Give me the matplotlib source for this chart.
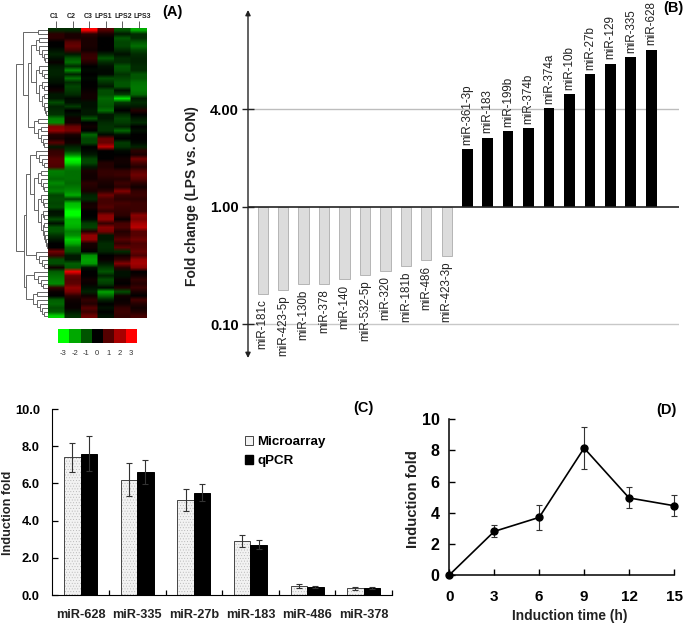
import matplotlib
matplotlib.use("Agg")
import matplotlib.pyplot as plt
from matplotlib.colors import LinearSegmentedColormap, ListedColormap
from matplotlib.patches import Patch
import numpy as np

plt.rcParams['font.family'] = ['Liberation Sans', 'DejaVu Sans']
plt.rcParams['hatch.linewidth'] = 0.3

W, H = 685, 625

# panel A
heat_cols = ['C1', 'C2', 'C3', 'LPS1', 'LPS2', 'LPS3']
heat_rows = [
    [-0.5, -0.5, 3, 1, -1, -2], [0.5, 0.3, 0.5, 0.3, -0.3, -0.5], [0.5, 0.3, 0.3, 0, -1, -0.5],
    [0, 1, 0.3, 0, -0.8, -1], [0, 1.2, 0.3, 0, -0.8, -1.3], [-0.2, 0.8, 0.2, 0, -0.5, -0.8],
    [-0.4, -0.3, 0.6, -0.4, -0.2, -0.5], [-0.2, -1, 0.7, -1, -0.5, -0.4], [0.1, -1.3, 0.4, -0.5, -0.5, -0.4],
    [-0.3, -0.5, 0, -0.2, -1, -0.5], [-0.4, -1.6, -0.1, -0.1, -0.9, -0.5], [-0.4, -0.4, 0, -0.1, -0.6, -1],
    [-0.3, -1.3, -0.1, -0.9, -0.8, -1], [-0.2, -0.5, 0, -0.6, -1, -1.3], [0, -0.8, 0, -0.3, -1, -1.4],
    [0.2, -0.7, 0.1, -0.9, -0.2, -1.4], [-0.3, -0.5, 0.2, -0.9, -0.7, -1.2], [-0.3, -0.1, 0.2, -1.2, -2.6, -0.3],
    [-0.9, -0.2, -0.2, -1.1, -0.7, -0.5], [-0.4, -0.7, -0.2, -1, -0.3, -0.3], [-0.5, 0, -0.3, -1.3, 0, 0.4],
    [-0.6, -0.2, -0.3, -0.3, -0.5, 0], [-1.5, 0.2, -1, -0.3, -0.8, -0.3], [-1.6, 0.2, 0, -0.5, -0.7, -0.5],
    [1.5, 1.2, 0.2, -0.6, -0.4, 0], [1.7, 1.4, 0, -0.6, -1.2, -0.2], [0.4, 0.3, -1.2, -0.1, -0.2, 0],
    [0.3, 0.1, -0.8, 1.2, 0, 0], [1, 0.2, -0.8, 1.2, -0.7, -0.1], [-0.3, -0.4, 0, 2.2, -0.6, -0.4],
    [0.6, -0.7, -0.1, 0, -0.1, 0.5], [0.7, -1.6, -0.3, 0, 0, 0.3], [1, -3, -0.8, 0, 0.2, 1.4],
    [1, -2.6, -0.8, 0.4, 0.2, 0.8], [0.9, -1.6, -0.3, 0.4, 0.1, 0.4], [-1.5, -1.3, 0.3, 0.6, 0.6, 1],
    [-1.4, -1.3, 0.2, 0.6, 0.7, 1.3], [-1.2, -1.3, 0.2, 0.4, 0.4, 1], [-1.6, -1.2, 0.5, 0.3, 0.7, 0.5],
    [-1.3, -1.4, 0.4, 0.2, 0.5, 0.2], [-1.5, -1.6, 0.3, 0.5, 1.5, 0.6], [-0.8, -2, -0.4, 1.3, 0.7, 0.7],
    [-0.9, -0.7, -0.5, 0.8, 0.5, 0.5], [-0.8, -2.2, 0.2, 0.8, 0.8, 0.7], [-0.9, -2.4, 0.3, 1, 0.7, 0.7],
    [-0.2, -3, 0, 0.6, 0.6, 0.7], [-0.3, -3, 0, 1.6, 0.5, 1.6], [-0.9, -2.2, -0.1, 1.7, 0.1, 1.4],
    [-0.2, -2.2, -0.7, 0.6, 0.8, 1.9], [-1, -2, -0.8, 1.6, 0.9, 2.2], [-1, -1.5, 0.4, 1.4, 0.4, 1],
    [-0.6, -1.7, 1.7, -0.3, 0.6, 1], [-0.3, -2.4, 1.7, -0.3, 1, 1.3], [0, -2, 0.3, -0.5, 0.6, 0.9],
    [0, -1.2, 0.2, -0.5, 1.1, 1], [1.3, -1, 0, -0.4, -0.5, 1.2], [0.7, -0.3, -1.7, 0, 0.2, 0.9],
    [-0.9, -0.3, -1.9, 0.1, 0.6, 1.8], [-0.9, -1.1, -1.8, -0.3, 1.5, 1.9], [0.2, -1, -0.2, -0.7, 0.5, 1.6],
    [-1.1, 2.8, 0, -1, -0.2, 0], [-1.3, 1.2, 0, -0.4, -0.2, 0.2], [-1.5, 1, 0.2, -0.9, 0.1, 0.6],
    [-1.6, 1.1, 0.1, -0.7, 0, 0.4], [0.6, 1.7, -0.2, -0.1, 0.4, 0.7], [0.1, 1.4, -0.4, -1.9, -0.9, 0.3],
    [0, 0.5, 0.2, -1.2, 0.2, 0], [-1.1, 0.2, 0.6, -0.4, 0.1, 0.8], [-1.2, 0.1, 0.4, 0, 0.2, 0.4],
    [-0.9, 0.1, 1, -0.2, 0.6, 0.2], [-1.1, -0.3, 0.7, 0, 0.7, 0.4], [-2.5, -0.6, 1.3, -0.2, 0.6, 0.8],
]
scale_vals = [-3, -2, -1, 0, 1, 2, 3]
scale_cols = ['#00ff00', '#00a800', '#005400', '#000000', '#540000', '#a80000', '#ff0000']

# dendrogram: (depth, first row, last row) groups, nested by hand
dendro = (32,
          (25, (10, 0, 1),
               (20, (17, (12, 2, 8), (12, 9, 21)), (14, 22, 29))),
          (24, (22, (18, (12, 30, 34), (14, 35, 54)), (12, 55, 59)),
               (22, (14, 60, 64), (15, 65, 71))))

# panel B
down_names = ['miR-181c', 'miR-423-5p', 'miR-130b', 'miR-378', 'miR-140',
              'miR-532-5p', 'miR-320', 'miR-181b', 'miR-486', 'miR-423-3p']
down_vals = [0.18, 0.196, 0.22, 0.22, 0.24, 0.262, 0.285, 0.314, 0.349, 0.382]
up_names = ['miR-361-3p', 'miR-183', 'miR-199b', 'miR-374b', 'miR-374a',
            'miR-10b', 'miR-27b', 'miR-129', 'miR-335', 'miR-628']
up_vals = [2.27, 2.68, 2.94, 3.07, 4.06, 5.0, 6.6, 7.7, 8.46, 9.4]
fold_ticks = [0.1, 1, 4]
fold_labels = ['0.10', '1.00', '4.00']

# panel C
mir_names = ['miR-628', 'miR-335', 'miR-27b', 'miR-183', 'miR-486', 'miR-378']
array_vals = [7.4, 6.2, 5.1, 2.9, 0.47, 0.35]
array_err = [0.78, 0.9, 0.6, 0.33, 0.12, 0.08]
qpcr_vals = [7.6, 6.6, 5.5, 2.7, 0.43, 0.37]
qpcr_err = [0.93, 0.64, 0.45, 0.24, 0.08, 0.04]

# panel D
hours = [0, 3, 6, 9, 12, 15]
fold_time = [0, 2.8, 3.7, 8.15, 4.95, 4.45]
fold_time_err = [0, 0.38, 0.82, 1.33, 0.67, 0.66]


def axes_px(left, top, right, bottom):
    # axes placed by image pixels, y counted from the top
    return fig.add_axes([left / W, 1 - bottom / H, (right - left) / W, (bottom - top) / H])


def label_px(x, y, s, **kw):
    fig.text(x / W, 1 - y / H, s, va='center', **kw)


def draw_tree(ax, node):
    # returns (x, y) of the node's stem
    depth, a, b = node
    if isinstance(a, int):
        if a == b:
            return 0, a
        if b - a == 1:
            sub_a, sub_b = (0, a, a), (0, b, b)
        else:
            cut = a + max(1, (b - a + 1) // 3)
            sub_a = (depth * 0.72, a, cut - 1)
            sub_b = (depth * 0.72, cut, b)
    else:
        sub_a, sub_b = a, b
    xa, ya = draw_tree(ax, sub_a)
    xb, yb = draw_tree(ax, sub_b)
    ax.plot([xa, depth, depth, xb], [ya, ya, yb, yb], color='#666666', lw=0.7,
            solid_joinstyle='miter')
    return depth, (ya + yb) / 2


fig = plt.figure(figsize=(W / 100, H / 100), dpi=100)

# (A) heatmap, columns repeated so the smoothing only softens the rows
green_red = LinearSegmentedColormap.from_list('gr', ['#00ff00', '#000000', '#ff0000'])
ax = axes_px(48, 28, 147, 318)
smooth = np.repeat(np.array(heat_rows), 16, axis=1)
ax.imshow(smooth, cmap=green_red, vmin=-3, vmax=3, aspect='auto', interpolation='bilinear',
          extent=(-0.5, 5.5, len(heat_rows) - 0.5, -0.5))
ax.xaxis.tick_top()
ax.set_xticks(range(len(heat_cols)))
ax.set_xticklabels([])
ax.tick_params(axis='x', length=5, width=0.6, color='#444444')
ax.set_yticks([])
for s in ax.spines.values():
    s.set_visible(False)
# the column names sit a little off their ticks in the original
for name, xp in zip(heat_cols, [54.3, 71.3, 88.3, 103.5, 123.3, 142.7]):
    label_px(xp, 16, name, fontsize=5, fontweight='bold', ha='center', color='#222222')

ax = axes_px(15, 28, 48, 318)
draw_tree(ax, dendro)
ax.set_xlim(33, 0)
ax.set_ylim(len(heat_rows) - 0.5, -0.5)
ax.axis('off')

ax = axes_px(57.7, 329, 136.7, 343)
ax.imshow([scale_vals], cmap=ListedColormap(scale_cols), aspect='auto')
ax.set_xticks(range(len(scale_vals)))
ax.set_xticklabels(scale_vals, fontsize=5.5, color='#333333')
ax.tick_params(axis='x', length=0, pad=5)
ax.set_yticks([])
for s in ax.spines.values():
    s.set_visible(False)
label_px(162, 12, '(A)', fontsize=10.5, fontweight='bold')


# (B) fold change, axis is stretched differently above and below 1
def fold_fwd(y):
    y = np.maximum(np.asarray(y, dtype=float), 1e-6)
    return np.where(y >= 1, np.log(y) / np.log(4) * 97.2, np.log10(y) * 117.3)


def fold_inv(p):
    p = np.asarray(p, dtype=float)
    return np.where(p >= 0, 4 ** (p / 97.2), 10 ** (p / 117.3))


ax = axes_px(248, 10, 679, 358)
ax.set_yscale('function', functions=(fold_fwd, fold_inv))
ax.set_ylim(float(fold_inv(206.7 - 358)), float(fold_inv(206.7 - 10)))
ax.set_xlim((248 - 262.7) / 20.45, (679 - 262.7) / 20.45)

x_down = np.arange(len(down_vals))
x_up = np.arange(len(up_vals)) + len(down_vals)
ax.axhline(4, color='#bdbdbd', lw=1, zorder=1)
ax.axhline(0.1, color='#c8c8c8', lw=1, zorder=1)
ax.bar(x_down, np.array(down_vals) - 1, bottom=1, width=0.5, color='#dcdcdc', edgecolor='#b5b5b5', lw=0.7, zorder=2)
ax.bar(x_up, np.array(up_vals) - 1, bottom=1, width=0.52, color='black', zorder=2)
ax.axhline(1, color='#222222', lw=1.2, zorder=3)
for x, v, name in zip(x_down, down_vals, down_names):
    ax.annotate(name, (x, v), xytext=(0, -4), textcoords='offset points', rotation=90,
                ha='center', va='top', fontsize=8.4, color='#222222')
for x, v, name in zip(x_up, up_vals, up_names):
    ax.annotate(name, (x, v), xytext=(0, 3), textcoords='offset points', rotation=90,
                ha='center', va='bottom', fontsize=8.4, color='#222222')
ax.set_yticks(fold_ticks)
ax.set_yticklabels(fold_labels, fontsize=10.5, fontweight='bold')
ax.minorticks_off()
ax.tick_params(axis='y', direction='inout', length=9, width=1, color='#222222', pad=2)
ax.set_xticks([])
for s in ax.spines.values():
    s.set_visible(False)
ax.annotate('', xy=(0, 1), xytext=(0, 0), xycoords='axes fraction',
            arrowprops=dict(arrowstyle='<|-|>,head_width=0.15,head_length=0.3', color='#222222', lw=1, shrinkA=0, shrinkB=0))
label_px(192, 196, 'Fold change (LPS vs. CON)', fontsize=10, fontweight='bold', rotation=90, ha='center', color='#222222')
label_px(663, 8, '(B)', fontsize=10.5, fontweight='bold')

# (C) microarray vs qPCR
ax = axes_px(52.3, 409, 392, 595)
x = np.arange(len(mir_names)) + 0.5
bw = 16.5 / 56.6
err_kw = dict(ecolor='#333333', elinewidth=0.8, capsize=2.2, capthick=0.8)
ax.bar(x - bw / 2, array_vals, bw, color='#f2f2f2', edgecolor='#b0b0b0', lw=0, hatch='......')
ax.bar(x - bw / 2, array_vals, bw, yerr=array_err, fill=False, edgecolor='#444444', lw=0.7, error_kw=err_kw)
ax.bar(x + bw / 2, qpcr_vals, bw, yerr=qpcr_err, color='black', edgecolor='black', lw=0.7, error_kw=err_kw)
ax.set_xlim(0, 6)
ax.set_ylim(0, 10)
ax.set_yticks(np.arange(0, 11, 2))
ax.set_yticklabels(['%.1f' % v for v in np.arange(0, 11, 2)], fontsize=9.3, fontweight='bold')
ax.set_xticks(np.arange(1, 7))
ax.set_xticklabels([])
for xt, name in zip(x, mir_names):
    ax.text(xt, -1.05, name, ha='center', va='center', fontsize=9.2, fontweight='bold', color='#222222')
ax.tick_params(axis='y', direction='in', length=4, width=0.9, pad=9)
ax.tick_params(axis='x', direction='in', length=3.5, width=0.9)
ax.spines['top'].set_visible(False)
ax.spines['right'].set_visible(False)
handles = [Patch(facecolor='#f2f2f2', edgecolor='#444444', lw=0.7), Patch(facecolor='black', edgecolor='black')]
ax.legend(handles, ['Microarray', 'qPCR'], loc='upper left', bbox_to_anchor=(0.568, 0.855), frameon=False,
          prop={'size': 9.6, 'weight': 'bold'}, handlelength=0.6, handleheight=0.6, handletextpad=0.3,
          labelspacing=0.55, borderpad=0, borderaxespad=0)
label_px(8, 513, 'Induction fold', fontsize=9.2, fontweight='bold', rotation=90, ha='center', color='#222222')
label_px(353, 408, '(C)', fontsize=10.5, fontweight='bold')

# (D) time course
ax = axes_px(449.3, 419.3, 674, 575)
ax.errorbar(hours, fold_time, yerr=fold_time_err, color='black', lw=1.2, marker='o', ms=5,
            ecolor='#333333', elinewidth=0.8, capsize=2.5, capthick=0.8, clip_on=False)
ax.set_xlim(0, 15)
ax.set_ylim(0, 10)
ax.set_xticks(hours)
ax.set_xticklabels(hours, fontsize=11, fontweight='bold')
ax.set_yticks(np.arange(0, 11, 2))
ax.set_yticklabels(np.arange(0, 11, 2), fontsize=11.5, fontweight='bold')
ax.tick_params(axis='y', direction='in', length=4, width=1, pad=7)
ax.tick_params(axis='x', direction='in', length=4, width=1, pad=11)
ax.spines['top'].set_visible(False)
ax.spines['right'].set_visible(False)
ax.spines['left'].set_linewidth(1.1)
ax.spines['bottom'].set_linewidth(1.1)
label_px(413, 499, 'Induction fold', fontsize=10.7, fontweight='bold', rotation=90, ha='center', color='#222222')
label_px(570, 615.7, 'Induction time (h)', fontsize=9.9, fontweight='bold', ha='center', color='#222222')
label_px(656, 410, '(D)', fontsize=10.5, fontweight='bold')

plt.savefig('out.png', dpi=100)
